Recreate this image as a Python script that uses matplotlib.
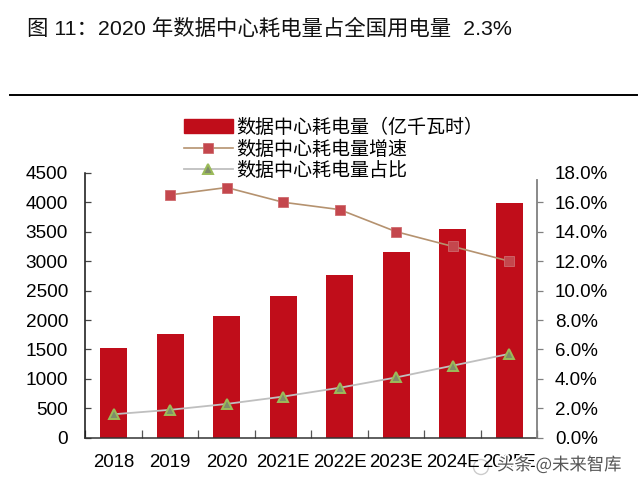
import matplotlib
matplotlib.use("Agg")
import matplotlib.pyplot as plt
from matplotlib.lines import Line2D
from matplotlib.patches import Patch, Ellipse
import matplotlib.patheffects as pe

years = ["2018", "2019", "2020", "2021E", "2022E", "2023E", "2024E", "2025E"]
power = [1525, 1770, 2070, 2400, 2760, 3150, 3550, 3980]
growth = [None, 16.5, 17.0, 16.0, 15.5, 14.0, 13.0, 12.0]
share = [1.6, 1.9, 2.3, 2.8, 3.4, 4.1, 4.9, 5.7]
left_ticks = [0, 500, 1000, 1500, 2000, 2500, 3000, 3500, 4000, 4500]
right_ticks = [0, 2, 4, 6, 8, 10, 12, 14, 16, 18]
legend_labels = ["数据中心耗电量（亿千瓦时）", "数据中心耗电量增速", "数据中心耗电量占比"]

W, H = 641, 486
CJK = ["Noto Sans CJK SC", "DejaVu Sans"]
LAT = ["Liberation Sans", "DejaVu Sans"]
MIX = ["Liberation Sans", "Noto Sans CJK SC"]
fig = plt.figure(figsize=(W / 100, H / 100), dpi=100, facecolor="white")
ax = fig.add_axes([85.4 / W, 1 - 437.8 / H, (537.4 - 85.4) / W, (437.8 - 172.8) / H])
ax2 = ax.twinx()
x = list(range(len(years)))
RED = "#C00D1A"
ax.bar(x, power, width=0.48, color=RED, zorder=2)
gx = [i for i, v in zip(x, growth) if v is not None]
gy = [v for v in growth if v is not None]
gstyle = dict(color="#B5926F", lw=1.2, marker="s", ms=7.2, mfc="#C4474D", mec="#CF6A6E", mew=0.6)
sstyle = dict(color="#BFBFBF", lw=1.3, marker="^", ms=7.5, mfc="#7F8C6A", mec="#9BBB59", mew=1.4)
ax2.plot(gx, gy, **gstyle)
ax2.plot(x, share, **sstyle)
ax.set_xlim(-0.5, 7.5)
ax.set_ylim(0, 4500)
ax2.set_ylim(0, 18)
ax.set_yticks(left_ticks)
ax2.set_yticks(right_ticks)
ax2.set_yticklabels([f"{v:.1f}%" for v in right_ticks], family=LAT, fontsize=13.5, color="black")
ax.set_yticklabels([str(v) for v in left_ticks], family=LAT, fontsize=13.7)
ax.set_xticks([i - 0.5 for i in range(9)], minor=False)
ax.set_xticklabels([""] * 9)
ax.set_xticks(x, minor=True)
ax.set_xticklabels(years, minor=True, family=LAT, fontsize=13.4)
ax.tick_params(axis="x", which="minor", length=0, pad=11.5)
ax.tick_params(axis="x", which="major", length=5.5, direction="in", color="#555555", width=0.9)
ax.tick_params(axis="y", length=4.5, direction="in", color="#444444", width=0.9, pad=12.5)
ax2.tick_params(axis="y", length=4.5, direction="out", color="#808080", width=0.9, pad=8)
ax2.yaxis.get_major_ticks()[-1].tick2line.set_visible(False)
ax.spines["top"].set_visible(False)
ax.spines["right"].set_visible(False)
ax2.spines["top"].set_visible(False)
ax2.spines["left"].set_visible(False)
ax2.spines["bottom"].set_visible(False)
ax.spines["left"].set_color("#111111")
ax.spines["bottom"].set_color("#333333")
ax.spines["left"].set_linewidth(1.1)
ax.spines["bottom"].set_linewidth(1.1)
ax2.spines["right"].set_color("#808080")
ax2.spines["right"].set_linewidth(1.3)
ax2.spines["right"].set_bounds(0, 17.5)
ax.set_zorder(1)
ax2.set_zorder(2)
ax2.patch.set_visible(False)


def px(xp, yp):
    return xp / W, 1 - yp / H


fig.text(*px(27, 28), "图 11：2020 年数据中心耗电量占全国用电量  2.3%", family=MIX,
         fontsize=15.4, va="center", color="#111111")
fig.add_artist(Line2D([10 / W, 637 / W], [1 - 94.7 / H] * 2, color="black", lw=1.4))

handles = [Patch(facecolor=RED, edgecolor=RED), Line2D([], [], **gstyle), Line2D([], [], **sstyle)]
fig.legend(handles, legend_labels, loc="upper left", bbox_to_anchor=px(184, 117), bbox_transform=fig.transFigure,
           frameon=False, borderpad=0, borderaxespad=0, handlelength=2.55, handleheight=0.74,
           handletextpad=0.2, labelspacing=0.03, prop={"family": "Noto Sans CJK SC", "size": 13.7})

halo = [pe.withStroke(linewidth=2.5, foreground="white")]
fig.text(*px(497, 465), "头条 @未来智库", family=CJK, fontsize=12.5, va="center", color="#555555", path_effects=halo)
fig.add_artist(Ellipse(px(481, 467), 15 / W, 15 / H, transform=fig.transFigure, fill=False, ec="#CCCCCC", lw=1))
fig.savefig("out.png", dpi=100)
